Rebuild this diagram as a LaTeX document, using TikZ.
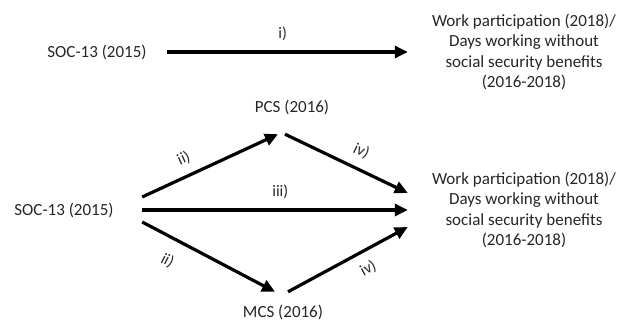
\documentclass[tikz,border=0pt]{standalone}
\usepackage{fontspec}
\setmainfont{Carlito}
\usetikzlibrary{arrows.meta}

\begin{document}
\begin{tikzpicture}[x=1pt,y=-1pt,
	var_node/.style={text=black!85,inner sep=0pt,font=\fontsize{17}{20.5}\selectfont,align=center},
	path_arrow/.style={line width=3.2pt,-{Triangle[length=13pt,width=12pt]}},
	path_label/.style={text=black!85,inner sep=1pt,font=\fontsize{16}{18}\selectfont}]

		\useasboundingbox (0,0) rectangle (620,320);

		\node[var_node,minimum width=140pt] (1) at (97,52) {SOC-13 (2015)};
		\node[var_node,minimum width=232pt] (2) at (524,52) {Work participation (2018)/\\Days working without\\social security benefits\\(2016-2018)};
		\node[var_node,minimum width=156pt] (3) at (64,210) {SOC-13 (2015)};
		\node[var_node,minimum height=54pt] (4) at (292,107) {PCS (2016)};
		\node[var_node,minimum height=40pt] (5) at (283,312) {MCS (2016)};
		\node[var_node,minimum width=232pt] (6) at (524,210) {Work participation (2018)/\\Days working without\\social security benefits\\(2016-2018)};

		\draw[path_arrow] (1.east) -- node[path_label,above=9pt,pos=0.48]{i)} (2.west);
		\draw[path_arrow] ([yshift=13pt]3.east) -- node[path_label,sloped,above=8pt,pos=0.36]{ii)} ([xshift=-14pt]4.south);
		\draw[path_arrow] ([xshift=-7pt]4.south) -- node[path_label,sloped,above=8pt,pos=0.56]{iv)} ([yshift=17pt]6.west);
		\draw[path_arrow] (3.east) -- node[path_label,above=9pt,pos=0.52]{iii)} (6.west);
		\draw[path_arrow] ([yshift=-12pt]3.east) -- node[path_label,sloped,below=13pt,pos=0.27]{ii)} ([xshift=-8pt]5.north);
		\draw[path_arrow] ([xshift=5pt]5.north) -- node[path_label,sloped,below=8pt,pos=0.6]{iv)} ([yshift=-17pt]6.west);
\end{tikzpicture}
\end{document}
